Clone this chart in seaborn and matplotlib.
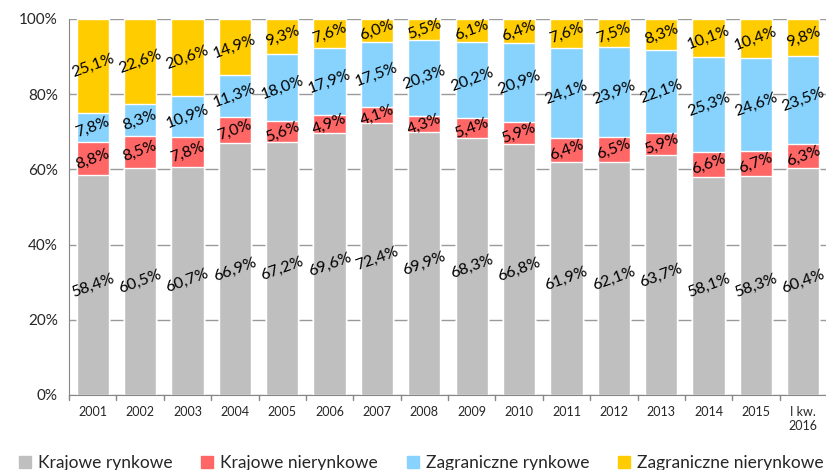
import numpy as np
import pandas as pd
import matplotlib.pyplot as plt
import seaborn as sns

# data (shares in %)
years = ["2001", "2002", "2003", "2004", "2005", "2006", "2007", "2008",
         "2009", "2010", "2011", "2012", "2013", "2014", "2015", "I kw.\n2016"]
krajowe_rynkowe = [58.4, 60.5, 60.7, 66.9, 67.2, 69.6, 72.4, 69.9,
                   68.3, 66.8, 61.9, 62.1, 63.7, 58.1, 58.3, 60.4]
krajowe_nierynkowe = [8.8, 8.5, 7.8, 7.0, 5.6, 4.9, 4.1, 4.3,
                      5.4, 5.9, 6.4, 6.5, 5.9, 6.6, 6.7, 6.3]
zagraniczne_rynkowe = [7.8, 8.3, 10.9, 11.3, 18.0, 17.9, 17.5, 20.3,
                       20.2, 20.9, 24.1, 23.9, 22.1, 25.3, 24.6, 23.5]
zagraniczne_nierynkowe = [25.1, 22.6, 20.6, 14.9, 9.3, 7.6, 6.0, 5.5,
                          6.1, 6.4, 7.6, 7.5, 8.3, 10.1, 10.4, 9.8]

series = ["Krajowe rynkowe", "Krajowe nierynkowe", "Zagraniczne rynkowe", "Zagraniczne nierynkowe"]
colors = ["#BFBFBF", "#FF6666", "#87D3FD", "#FFCC00"]

df = pd.DataFrame({"rok": years,
                   series[0]: krajowe_rynkowe,
                   series[1]: krajowe_nierynkowe,
                   series[2]: zagraniczne_rynkowe,
                   series[3]: zagraniczne_nierynkowe})

sns.set_style("white")
plt.rcParams["font.family"] = ["Lato", "DejaVu Sans"]

fig = plt.figure(figsize=(8.26, 4.70), dpi=100)
ax = fig.add_axes([69 / 826, 75 / 470, 758 / 826, 376 / 470])

# stacked bars: draw cumulative totals from top layer down
cum = df[series].cumsum(axis=1)
for i in range(3, -1, -1):
    sns.barplot(x=df["rok"], y=cum[series[i]], color=colors[i], width=0.68,
                saturation=1, ax=ax, zorder=2)

# labels in the middle of each segment
for i, s in enumerate(series):
    bottoms = cum[s] - df[s]
    for j in range(len(years)):
        v = df[s][j]
        ax.text(j, bottoms[j] + v / 2, f"{v:.1f}%".replace(".", ","),
                ha="center", va="center", rotation=20, fontsize=11.5,
                color="black", zorder=3)

ax.set_ylim(0, 100)
ax.set_xlim(-0.5, len(years) - 0.5)
ax.set_yticks(range(0, 101, 20))
ax.set_yticklabels([f"{t}%" for t in range(0, 101, 20)], fontsize=11)
ax.set_xlabel("")
ax.set_ylabel("")
ax.tick_params(axis="x", labelsize=9, length=0, pad=8)
ax.tick_params(axis="y", length=4, color="#868686", pad=4)
ax.yaxis.grid(True, color="#9A9A9A", lw=1, zorder=0)
ax.set_axisbelow(True)
for side in ["top", "right"]:
    ax.spines[side].set_visible(False)
ax.spines["left"].set_color("#868686")
ax.spines["bottom"].set_color("#868686")
# category boundary ticks on the x axis
for k in range(len(years) + 1):
    ax.plot([k - 0.5, k - 0.5], [0, -1.4], color="#868686", lw=1, clip_on=False)

handles = [plt.Rectangle((0, 0), 1, 1, color=c) for c in colors]
fig.legend(handles, series, loc="lower left", bbox_to_anchor=(0.004, -0.035), ncol=4,
           frameon=False, fontsize=12.5, handlelength=0.7, handleheight=0.7,
           handletextpad=0.4, columnspacing=1.65)

fig.savefig("out.png", dpi=100)
